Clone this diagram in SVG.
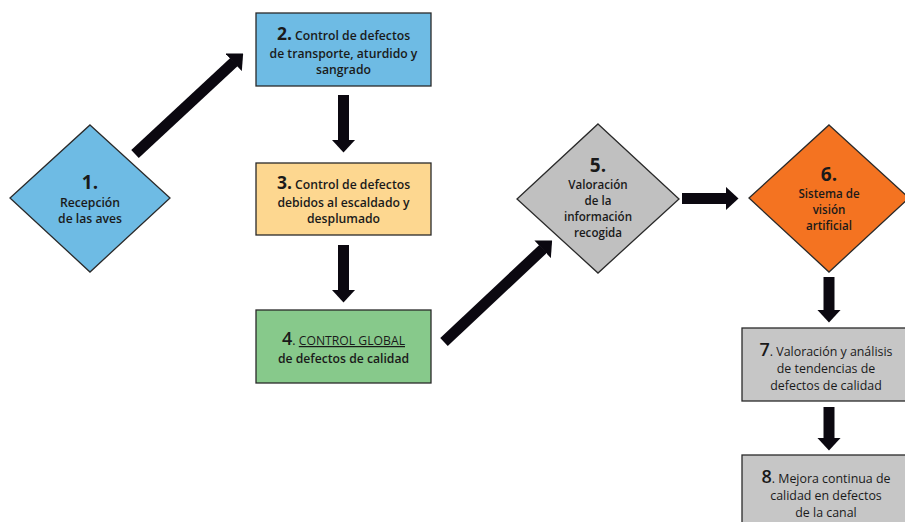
<svg xmlns="http://www.w3.org/2000/svg" width="905" height="522" viewBox="0 0 905 522">
<style>
.sh{stroke:#2a2a2a;stroke-width:1.3}
text{font-family:"Open Sans","DejaVu Sans",sans-serif;font-size:12.2px;font-weight:600;fill:#1a1a1a;text-anchor:middle}
.n{font-size:19px;font-weight:700}
.nb{font-size:17.5px;font-weight:700}
.nr{font-size:18px;font-weight:600}
.r{font-weight:500;font-size:12.4px}
.s{font-size:11.6px}
.arr{stroke:#0b0810;stroke-width:11;fill:none;marker-end:url(#ah)}
</style>
<defs>
<marker id="ah" markerUnits="userSpaceOnUse" viewBox="0 0 13 24" markerWidth="13" markerHeight="24" refX="0.5" refY="12" orient="auto">
<path d="M0,0 L13,12 L0,24 Z" fill="#0b0810"/>
</marker>
</defs>
<rect width="905" height="522" fill="#fff"/>
<g id="connectors">
<line class="arr" x1="135" y1="154" x2="234" y2="62"/>
<line class="arr" x1="343.5" y1="95" x2="343.5" y2="140"/>
<line class="arr" x1="343.5" y1="245" x2="343.5" y2="290"/>
<line class="arr" x1="444" y1="342" x2="543" y2="249"/>
<line class="arr" x1="682" y1="198.5" x2="726" y2="198.5"/>
<line class="arr" x1="829" y1="277" x2="829" y2="310"/>
<line class="arr" x1="829" y1="407" x2="829" y2="438"/>
</g>
<g id="n1">
<polygon class="sh" points="90,125 170,198 90,272 10,198" fill="#6EBBE4"/>
<text class="n" x="90" y="189">1.</text>
<text x="90" y="207">Recepción</text>
<text x="90" y="223">de las aves</text>
</g>
<g id="n2">
<rect class="sh" x="256" y="13" width="175" height="73" fill="#6EBBE4"/>
<text x="343.5" y="40"><tspan class="nb">2.</tspan> Control de defectos</text>
<text x="343.5" y="57.5">de transporte, aturdido y</text>
<text x="343.5" y="73.5">sangrado</text>
</g>
<g id="n3">
<rect class="sh" x="256" y="163" width="175" height="72" fill="#FDD790"/>
<text x="343.5" y="189"><tspan class="nb">3.</tspan> Control de defectos</text>
<text x="343.5" y="206.5">debidos al escaldado y</text>
<text x="343.5" y="222.5">desplumado</text>
</g>
<g id="n4">
<rect class="sh" x="256" y="310" width="175" height="73" fill="#87C98B"/>
<text x="343.5" y="345"><tspan class="nr">4</tspan><tspan class="r">. </tspan><tspan text-decoration="underline" font-weight="500">CONTROL GLOBAL</tspan></text>
<text x="343.5" y="363">de defectos de calidad</text>
</g>
<g id="n5">
<polygon class="sh" points="598,124 679,199 598,273 517,199" fill="#C0C0C0"/>
<text class="n" x="598" y="172">5.</text>
<text class="s" x="598" y="189">Valoración</text>
<text class="s" x="598" y="205">de la</text>
<text class="s" x="598" y="221">información</text>
<text class="s" x="598" y="237">recogida</text>
</g>
<g id="n6">
<polygon class="sh" points="829,125 909,198 829,272 749,198" fill="#F47321"/>
<text class="n" x="829" y="181">6.</text>
<text class="s" x="829" y="198">Sistema de</text>
<text class="s" x="829" y="214">visión</text>
<text class="s" x="829" y="230">artificial</text>
</g>
<g id="n7">
<rect class="sh" x="742" y="328" width="175" height="73" fill="#C6C6C6"/>
<text class="r" x="826" y="355.5"><tspan class="nr">7</tspan>. Valoración y análisis</text>
<text class="r" x="826" y="372.5">de tendencias de</text>
<text class="r" x="826" y="389.5">defectos de calidad</text>
</g>
<g id="n8">
<rect class="sh" x="742" y="455" width="175" height="80" fill="#C6C6C6"/>
<text class="r" x="826" y="482.5"><tspan class="nr">8</tspan>. Mejora continua de</text>
<text class="r" x="826" y="499.5">calidad en defectos</text>
<text class="r" x="826" y="516.5">de la canal</text>
</g>
</svg>
